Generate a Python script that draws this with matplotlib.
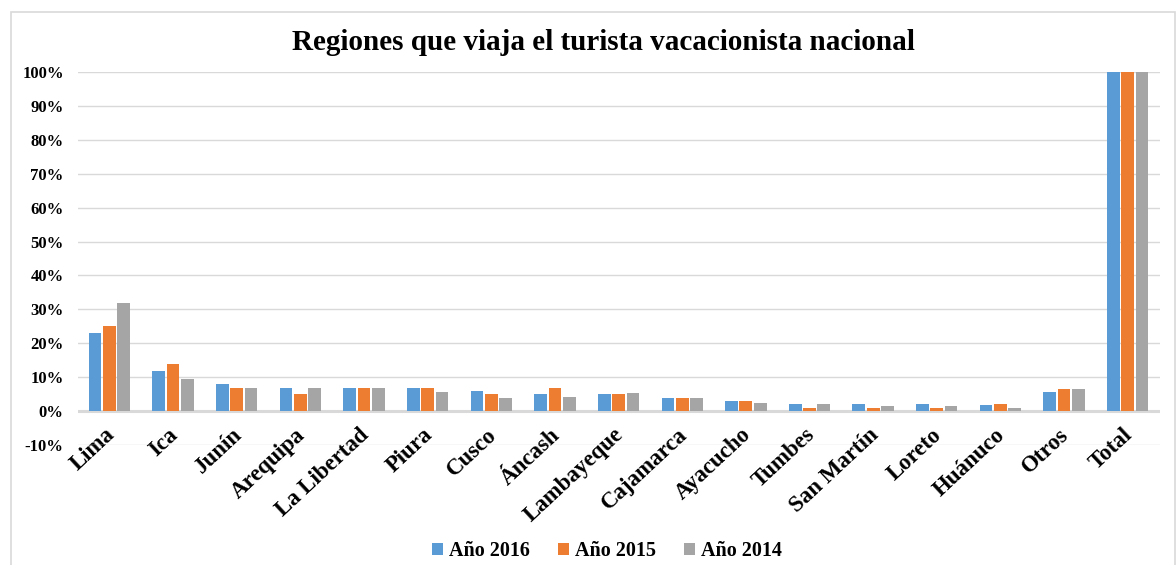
import matplotlib
matplotlib.use('Agg')
from matplotlib import pyplot as plt
from matplotlib.patches import Rectangle
import numpy as np

# Data
regiones = ["Lima", "Ica", "Junín", "Arequipa", "La Libertad", "Piura", "Cusco",
            "Áncash", "Lambayeque", "Cajamarca", "Ayacucho", "Tumbes", "San Martín",
            "Loreto", "Huánuco", "Otros", "Total"]
anio_2016 = [23, 12, 8, 7, 7, 7, 6, 5, 5, 4, 3, 2, 2, 2, 1.8, 5.7, 100]
anio_2015 = [25, 14, 7, 5, 7, 7, 5, 7, 5, 4, 3, 1, 1, 1, 2, 6.5, 100]
anio_2014 = [32, 9.5, 6.8, 6.8, 7, 5.8, 3.8, 4.3, 5.5, 4, 2.5, 2.1, 1.5, 1.6, 1, 6.5, 100]
series = [("Año 2016", anio_2016, "#5B9BD5"),
          ("Año 2015", anio_2015, "#ED7D31"),
          ("Año 2014", anio_2014, "#A5A5A5")]
yticks = list(range(-10, 101, 10))

plt.rcParams['font.family'] = ['Liberation Serif', 'DejaVu Serif']
plt.rcParams['font.weight'] = 'bold'

fig = plt.figure(figsize=(11.76, 5.65), dpi=100)
ax = fig.add_axes([0.066, 0.212, 0.92, 0.661])

# Chart border
fig.patches.append(Rectangle((0.009, -0.01), 0.99, 0.989, transform=fig.transFigure,
                             fill=False, edgecolor='#D9D9D9', linewidth=1.2))

x = np.arange(len(regiones))
width = 0.2
gap = 0.025
for i, (name, vals, color) in enumerate(series):
    ax.bar(x + (i - 1) * (width + gap), vals, width, color=color, label=name, zorder=3)

ax.set_xlim(-0.5, len(regiones) - 0.5)
ax.set_ylim(-10, 100)
ax.set_yticks(yticks)
ax.set_yticklabels(["{}%".format(t) for t in yticks], fontsize=12, fontweight='bold')
ax.grid(axis='y', color='#D9D9D9', linewidth=1, zorder=0)
ax.axhline(0, color='#D9D9D9', linewidth=2.2, zorder=2)
for s in ax.spines.values():
    s.set_visible(False)
ax.tick_params(axis='both', length=0)
ax.tick_params(axis='y', pad=10)

ax.set_xticks(x - 0.08)
ax.set_xticklabels(regiones, rotation=43, ha='right', rotation_mode='anchor',
                   fontsize=16.5, fontweight='bold')
ax.tick_params(axis='x', pad=-15)

fig.text(0.513, 0.925, "Regiones que viaja el turista vacacionista nacional",
         ha='center', va='center', fontsize=21, fontweight='bold')

fig.legend(loc='center', bbox_to_anchor=(0.516, 0.024), ncol=3, frameon=False,
           prop={'size': 14.5, 'weight': 'bold'}, handlelength=0.55, handleheight=0.55,
           handletextpad=0.3, columnspacing=1.4)

fig.savefig("out.png", dpi=100)
